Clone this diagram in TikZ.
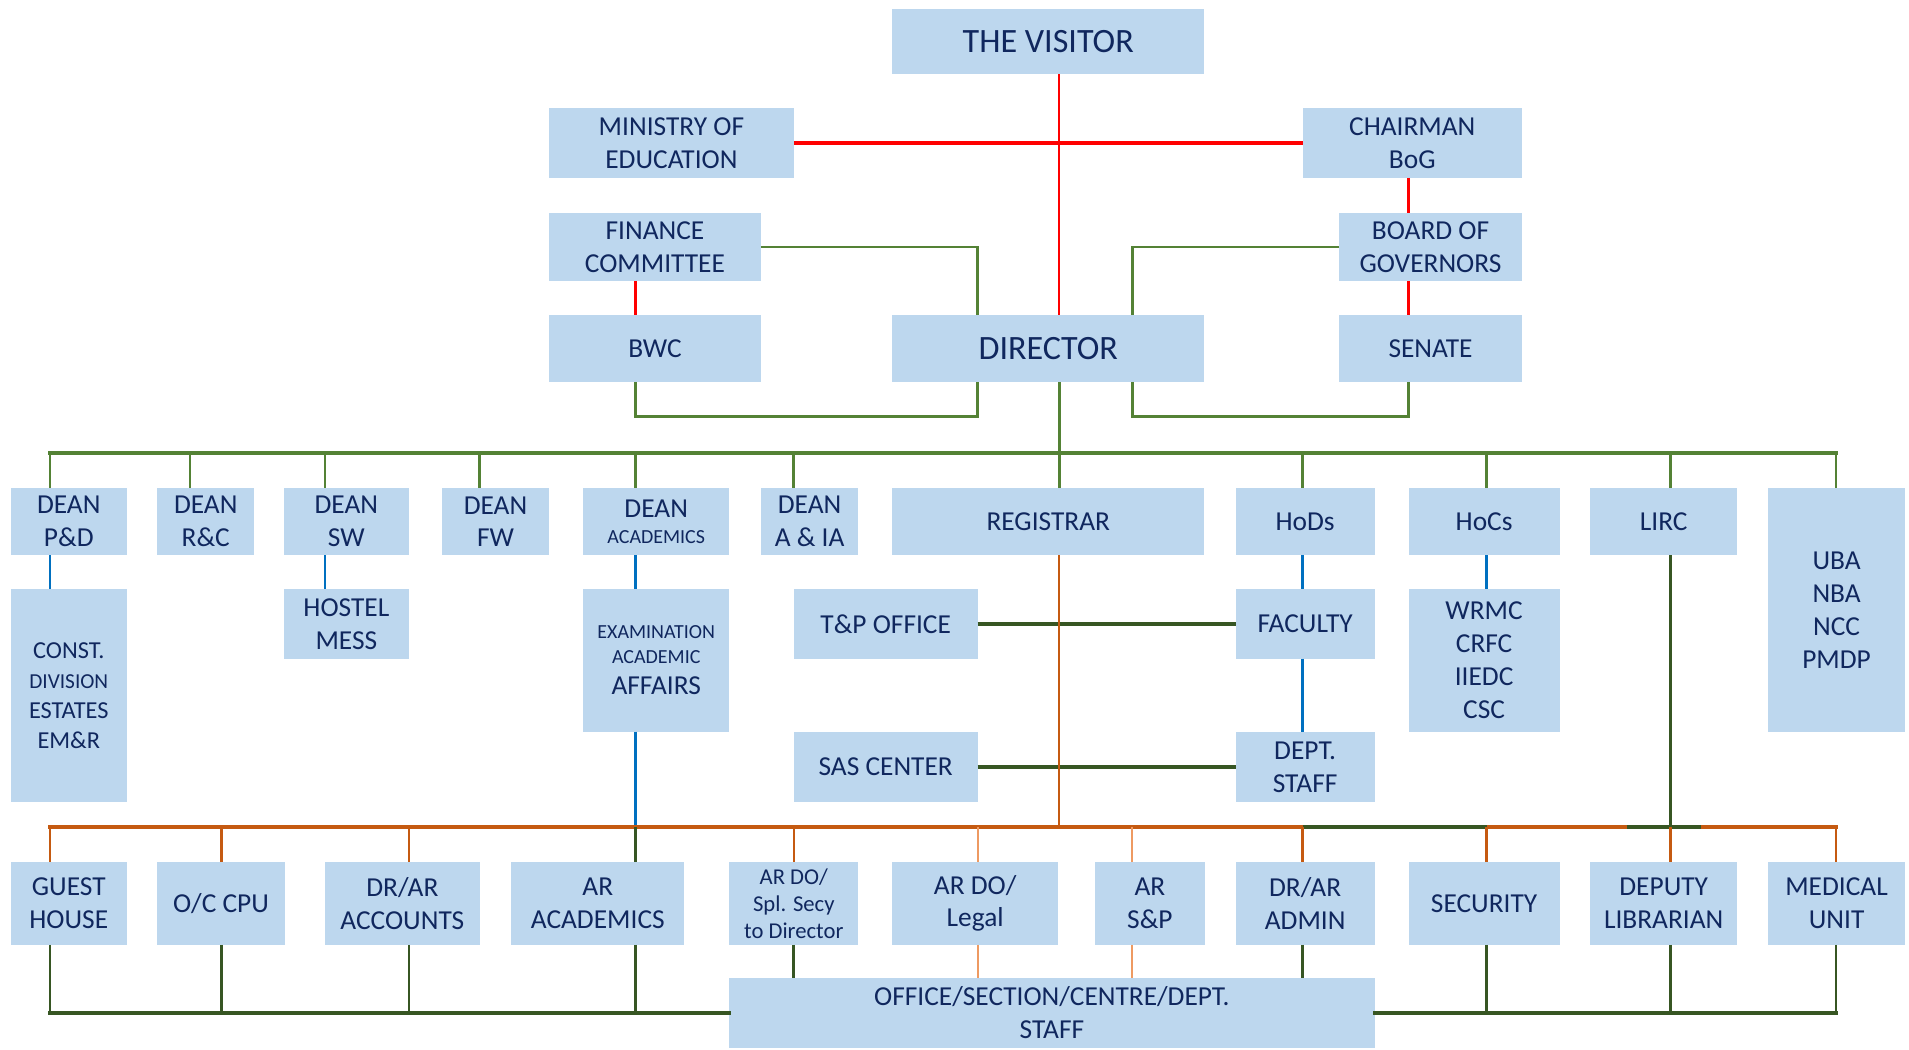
\documentclass[tikz,border=0pt]{standalone}
\usepackage{fontspec}
\setmainfont{Carlito}
\definecolor{boxfill}{HTML}{BDD7EE}
\definecolor{txtc}{HTML}{10275E}
\definecolor{redc}{HTML}{FF0000}
\definecolor{grnc}{HTML}{548235}
\definecolor{dkgc}{HTML}{375623}
\definecolor{orgc}{HTML}{C55A11}
\definecolor{lorgc}{HTML}{EE9A62}
\definecolor{bluc}{HTML}{0070C0}
\tikzset{
  box/.style={fill=boxfill, draw=none, inner sep=0pt, outer sep=0pt, align=center, text=txtc, font=\fontsize{22.5}{27}\selectfont},
  bigtext/.style={font=\fontsize{28}{33}\selectfont},
  smalltext/.style={font=\fontsize{18.6}{22.3}\selectfont},
  redln/.style={draw=redc, line width=2pt},
  redthick/.style={draw=redc, line width=3.2pt},
  grnln/.style={draw=grnc, line width=2.2pt},
  grnbus/.style={draw=grnc, line width=3pt, line cap=rect},
  dkgln/.style={draw=dkgc, line width=2.2pt},
  dkgbus/.style={draw=dkgc, line width=3pt, line cap=rect},
  dkgthick/.style={draw=dkgc, line width=3pt},
  orgln/.style={draw=orgc, line width=2pt},
  orgbus/.style={draw=orgc, line width=3pt, line cap=rect},
  lorgln/.style={draw=lorgc, line width=1.6pt},
  bluln/.style={draw=bluc, line width=2pt},
  bluthick/.style={draw=bluc, line width=2.8pt}
}
% #1 options, #2 name, #3-#6 corners (x1,y1,x2,y2), #7 text
\newcommand\mkbox[7][]{%
  \node[box,#1,minimum width={(#5-#3)*1pt},minimum height={(#6-#4)*1pt}]
    (#2) at ({(#3+#5)/2},{(#4+#6)/2}) {#7};}
\begin{document}
\begin{tikzpicture}[x=1pt,y=-1pt]
\fill[white] (0,0) rectangle (1568,862);
\useasboundingbox (0,0) rectangle (1568,862);

% column and level coordinates
\coordinate (c1) at (41,0);
\coordinate (c2) at (156,0);
\coordinate (c3) at (267,0);
\coordinate (c4) at (394,0);
\coordinate (c5) at (522,0);
\coordinate (c6) at (652,0);
\coordinate (cR) at (870,0);
\coordinate (c8) at (1070,0);
\coordinate (c9) at (1221,0);
\coordinate (c10) at (1372,0);
\coordinate (c11) at (1508,0);
\coordinate (cO) at (182,0);
\coordinate (cA) at (336,0);
\coordinate (cF) at (803,0);
\coordinate (cB) at (930,0);
\coordinate (cS) at (1157,0);
\coordinate (ya) at (0,342);
\coordinate (yb1) at (0,372);
\coordinate (yb2) at (0,679);
\coordinate (g1) at (1336,679);
\coordinate (g2) at (1397,679);

% top level
\mkbox[bigtext]{vis}{733}{7}{989}{61}{THE VISITOR}
\mkbox{moe}{451}{89}{652}{146}{MINISTRY OF\\EDUCATION}
\mkbox{chm}{1070}{89}{1250}{146}{CHAIRMAN\\BoG}
\mkbox{fin}{451}{175}{625}{231}{FINANCE\\COMMITTEE}
\mkbox{bog}{1100}{175}{1250}{231}{BOARD OF\\GOVERNORS}
\mkbox{bwc}{451}{259}{625}{314}{BWC}
\mkbox[bigtext]{dir}{733}{259}{989}{314}{DIRECTOR}
\mkbox{sen}{1100}{259}{1250}{314}{SENATE}

% second row
\mkbox{dpd}{9}{401}{104}{456}{DEAN\\P\&D}
\mkbox{drc}{129}{401}{209}{456}{DEAN\\R\&C}
\mkbox{dsw}{233}{401}{336}{456}{DEAN\\SW}
\mkbox{dfw}{363}{401}{451}{456}{DEAN\\FW}
\mkbox{dac}{479}{401}{599}{456}{DEAN\\[-5pt]{\fontsize{16.4}{20}\selectfont ACADEMICS}}
\mkbox{dai}{625}{401}{705}{456}{DEAN\\A \& IA}
\mkbox{reg}{733}{401}{989}{456}{REGISTRAR}
\mkbox{hod}{1015}{401}{1129}{456}{HoDs}
\mkbox{hoc}{1157}{401}{1281}{456}{HoCs}
\mkbox{lirc}{1306}{401}{1427}{456}{LIRC}
\mkbox{uba}{1452}{401}{1565}{601}{UBA\\NBA\\NCC\\PMDP}

% third row
\mkbox[font=\fontsize{20}{24.5}\selectfont]{con}{9}{484}{104}{659}{CONST.\\{\fontsize{17.5}{21}\selectfont DIVISION}\\ESTATES\\EM\&R}
\mkbox{hos}{233}{484}{336}{541}{HOSTEL\\MESS}
\mkbox[font=\fontsize{16.4}{20.5}\selectfont]{exa}{479}{484}{599}{601}{EXAMINATION\\ACADEMIC\\[5pt]{\fontsize{22.5}{27}\selectfont AFFAIRS}}
\mkbox{tpo}{652}{484}{803}{541}{T\&P OFFICE}
\mkbox{sas}{652}{601}{803}{659}{SAS CENTER}
\mkbox{fac}{1015}{484}{1129}{541}{FACULTY}
\mkbox{dst}{1015}{601}{1129}{659}{DEPT.\\STAFF}
\mkbox{wrm}{1157}{484}{1281}{601}{WRMC\\CRFC\\IIEDC\\CSC}

% fourth row
\mkbox{gh}{9}{708}{104}{776}{GUEST\\HOUSE}
\mkbox{ocp}{129}{708}{234}{776}{O/C CPU}
\mkbox{dra}{267}{708}{394}{776}{DR/AR\\ACCOUNTS}
\mkbox{ara}{420}{708}{562}{776}{AR\\ACADEMICS}
\mkbox[smalltext]{ars}{599}{708}{705}{776}{AR DO/\\Spl. Secy\\to Director}
\mkbox{arl}{733}{708}{869}{776}{AR DO/\\Legal}
\mkbox{asp}{899}{708}{990}{776}{AR\\S\&P}
\mkbox{dad}{1015}{708}{1129}{776}{DR/AR\\ADMIN}
\mkbox{sec}{1157}{708}{1281}{776}{SECURITY}
\mkbox{dlb}{1306}{708}{1427}{776}{DEPUTY\\LIBRARIAN}
\mkbox{med}{1452}{708}{1565}{776}{MEDICAL\\UNIT}

% bottom
\mkbox{off}{599}{803}{1129}{861}{OFFICE/SECTION/CENTRE/DEPT.\\STAFF}

% red links
\draw[redln] (vis.south -| cR) -- (dir.north -| cR);
\draw[redthick] (moe.east) -- (chm.west);
\draw[redln] (chm.south -| cS) -- (bog.north -| cS);
\draw[redln] (bog.south -| cS) -- (sen.north -| cS);
\draw[redln] (fin.south -| c5) -- (bwc.north -| c5);

% green links around director
\draw[grnln] (fin.east) -| (dir.north -| cF);
\draw[grnln] (bog.west) -| (dir.north -| cB);
\draw[grnln] (bwc.south -| c5) -- (c5 |- ya) -- (cF |- ya) -- (dir.south -| cF);
\draw[grnln] (sen.south -| cS) -- (cS |- ya) -- (cB |- ya) -- (dir.south -| cB);
\draw[grnln] (dir.south -| cR) -- (cR |- yb1);

% top green bus
\draw[grnbus] (c1 |- yb1) -- (c11 |- yb1);
\foreach \c/\n in {c1/dpd,c2/drc,c3/dsw,c4/dfw,c5/dac,c6/dai,cR/reg,c8/hod,c9/hoc,c10/lirc,c11/uba}
  \draw[grnln] (\c |- yb1) -- (\n.north -| \c);

% blue links
\draw[bluln] (dpd.south -| c1) -- (con.north -| c1);
\draw[bluln] (dsw.south -| c3) -- (hos.north -| c3);
\draw[bluln] (dac.south -| c5) -- (exa.north -| c5);
\draw[bluln] (exa.south -| c5) -- (c5 |- yb2);
\draw[bluln] (hod.south -| c8) -- (fac.north -| c8);
\draw[bluthick] (fac.south -| c8) -- (dst.north -| c8);
\draw[bluln] (hoc.south -| c9) -- (wrm.north -| c9);

% dark green side links
\draw[dkgthick] (tpo.east) -- (fac.west);
\draw[dkgthick] (sas.east) -- (dst.west);
\draw[dkgln] (lirc.south -| c10) -- (c10 |- yb2);

% orange bus
\draw[orgln] (reg.south -| cR) -- (cR |- yb2);
\draw[orgbus] (c1 |- yb2) -- (c11 |- yb2);
\draw[dkgthick] (c8 |- yb2) -- (c9 |- yb2);
\draw[dkgthick] (g1) -- (g2);
\foreach \c/\n in {c1/gh,cO/ocp,cA/dra,c6/ars,c8/dad,c9/sec,c10/dlb,c11/med}
  \draw[orgln] (\c |- yb2) -- (\n.north -| \c);
\draw[lorgln] (cF |- yb2) -- (arl.north -| cF);
\draw[lorgln] (cB |- yb2) -- (asp.north -| cB);
\draw[dkgln] (c5 |- yb2) -- (ara.north -| c5);

% bottom links
\foreach \c/\n in {c1/gh,cO/ocp,cA/dra,c5/ara,c9/sec,c10/dlb,c11/med}
  \draw[dkgln] (\n.south -| \c) -- (\c |- off.west);
\draw[dkgbus] (c1 |- off.west) -- (off.west);
\draw[dkgbus] (off.east) -- (c11 |- off.east);
\draw[dkgln] (ars.south -| c6) -- (off.north -| c6);
\draw[lorgln] (arl.south -| cF) -- (off.north -| cF);
\draw[lorgln] (asp.south -| cB) -- (off.north -| cB);
\draw[dkgln] (dad.south -| c8) -- (off.north -| c8);
\end{tikzpicture}
\end{document}
